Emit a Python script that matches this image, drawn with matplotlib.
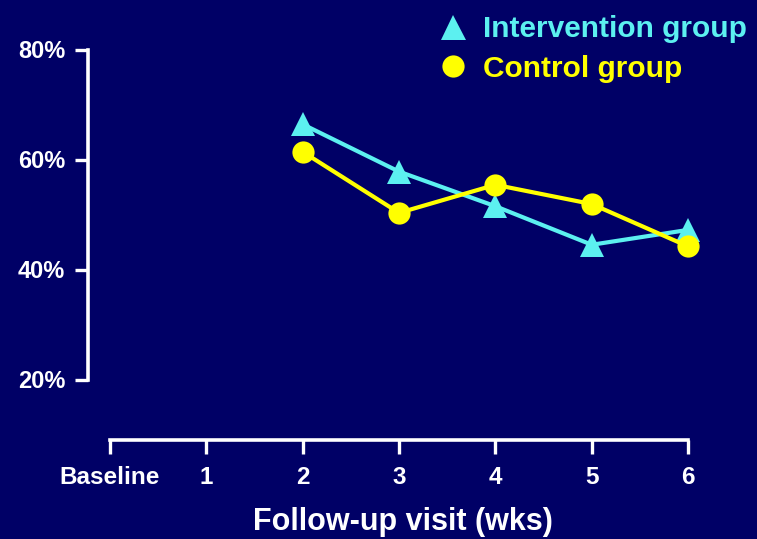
import matplotlib
matplotlib.use("Agg")
import matplotlib.pyplot as plt
from matplotlib.lines import Line2D

# Follow-up data (percent)
visits = [0, 1, 2, 3, 4, 5, 6]
visit_labels = ["Baseline", "1", "2", "3", "4", "5", "6"]
measured_visits = [2, 3, 4, 5, 6]
intervention = [66.4, 57.8, 51.5, 44.5, 47.2]
control = [61.4, 50.3, 55.4, 51.9, 44.2]
y_ticks = [20, 40, 60, 80]
y_tick_labels = ["20%", "40%", "60%", "80%"]

BG = "#000066"
CYAN = "#5CF0F0"
YELLOW = "#FFFF00"
WHITE = "#FFFFFF"

plt.rcParams["font.family"] = ["Liberation Sans", "DejaVu Sans"]
plt.rcParams["font.weight"] = "bold"

fig = plt.figure(figsize=(7.57, 5.39), dpi=100, facecolor=BG)
W, H = 757, 539
left_px, right_px, top_px, bottom_px = 88, 717, 38.5, 440
ax = fig.add_axes([left_px / W, 1 - bottom_px / H,
                   (right_px - left_px) / W, (bottom_px - top_px) / H])
ax.set_facecolor(BG)

ax.plot(measured_visits, intervention, color=CYAN, lw=3, marker="^",
        markersize=17, markeredgewidth=0, zorder=3)
ax.plot(measured_visits, control, color=YELLOW, lw=3, marker="o",
        markersize=16, markeredgewidth=0, zorder=3)

ax.set_xlim(-0.228, 6.3)
ax.set_ylim(9.0, 82)

for s in ["top", "right"]:
    ax.spines[s].set_visible(False)
for s in ["left", "bottom"]:
    ax.spines[s].set_color(WHITE)
    ax.spines[s].set_linewidth(2.6)
    ax.spines[s].set_capstyle("projecting")
ax.spines["left"].set_bounds(20, 80)
ax.spines["bottom"].set_bounds(0, 6)

ax.set_yticks(y_ticks)
ax.set_yticklabels(y_tick_labels)
ax.set_xticks(visits)
ax.set_xticklabels(visit_labels)
ax.tick_params(axis="y", colors=WHITE, direction="out", length=9.5, width=2.4,
               pad=7, labelsize=17)
ax.tick_params(axis="x", colors=WHITE, direction="out", length=10, width=2.4,
               pad=8.5, labelsize=17.5)
for lab in ax.get_xticklabels() + ax.get_yticklabels():
    lab.set_fontweight("bold")

ax.set_xlabel("Follow-up visit (wks)", color=WHITE, fontsize=22,
              fontweight="bold", labelpad=13)

handles = [
    Line2D([], [], linestyle="none", marker="^", color=CYAN, markersize=18,
           markeredgewidth=0),
    Line2D([], [], linestyle="none", marker="o", color=YELLOW, markersize=16,
           markeredgewidth=0),
]
leg = fig.legend(handles, ["Intervention group", "Control group"],
                 loc="upper left", bbox_to_anchor=(438 / W, 1 - 15 / H),
                 frameon=False, handlelength=1.0, handletextpad=0.5,
                 labelspacing=0.4, borderpad=0, borderaxespad=0,
                 prop={"family": "Liberation Sans", "weight": "bold",
                       "size": 21.5})
for txt, c in zip(leg.get_texts(), [CYAN, YELLOW]):
    txt.set_color(c)

fig.savefig("out.png", dpi=100, facecolor=BG)
